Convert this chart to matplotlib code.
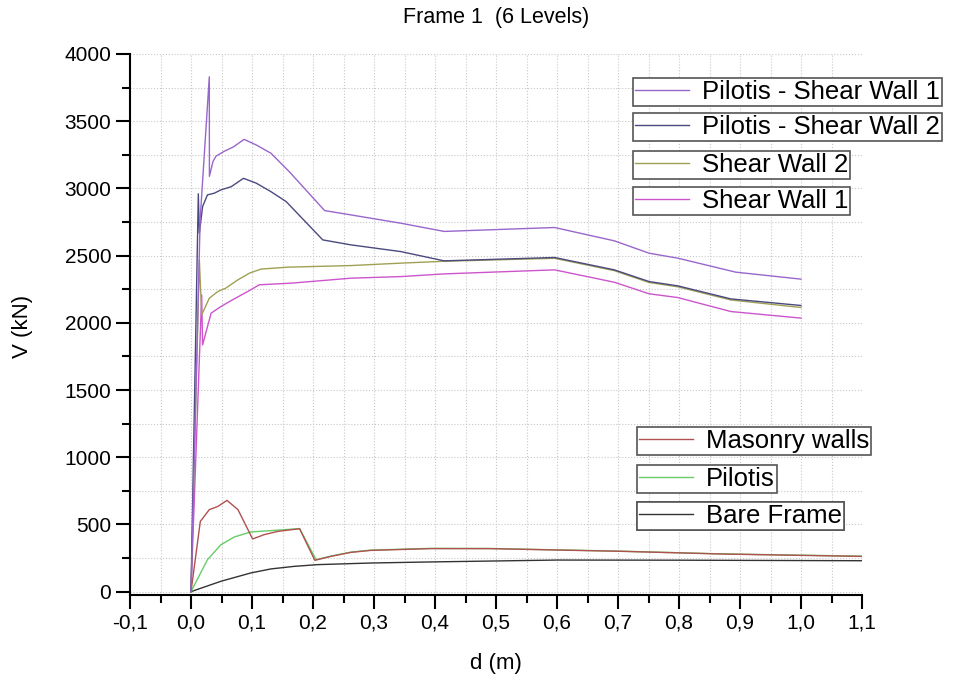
import matplotlib
matplotlib.use('Agg')
import matplotlib.pyplot as plt
from matplotlib.ticker import MultipleLocator, FuncFormatter

plt.rcParams['font.family'] = ['Liberation Sans', 'DejaVu Sans']

# Pilotis - Shear Wall 1
d_psw1 = [0, 0.015, 0.030, 0.0302, 0.036, 0.041, 0.054, 0.070, 0.087, 0.107, 0.131,
          0.161, 0.219, 0.262, 0.344, 0.415, 0.596, 0.694, 0.751, 0.798, 0.893, 1.0]
v_psw1 = [0, 2770, 3830, 3090, 3200, 3240, 3275, 3310, 3365, 3323, 3262,
          3125, 2835, 2803, 2741, 2680, 2709, 2610, 2518, 2481, 2377, 2325]

# Pilotis - Shear Wall 2
d_psw2 = [0, 0.012, 0.0137, 0.019, 0.027, 0.038, 0.049, 0.066, 0.086, 0.107, 0.131,
          0.156, 0.216, 0.262, 0.344, 0.415, 0.596, 0.694, 0.751, 0.798, 0.885, 1.0]
v_psw2 = [0, 2960, 2667, 2865, 2952, 2964, 2989, 3013, 3075, 3039, 2976,
          2902, 2617, 2580, 2530, 2461, 2486, 2394, 2307, 2275, 2178, 2129]

# Shear Wall 2
d_sw2 = [0, 0.0137, 0.0175, 0.030, 0.044, 0.057, 0.077, 0.096, 0.115, 0.158, 0.262,
         0.344, 0.415, 0.596, 0.694, 0.751, 0.798, 0.885, 1.0]
v_sw2 = [0, 2468, 2059, 2183, 2233, 2258, 2320, 2370, 2400, 2414, 2426,
         2444, 2458, 2480, 2388, 2300, 2268, 2170, 2114]

# Shear Wall 1
d_sw1 = [0, 0.0175, 0.019, 0.033, 0.049, 0.068, 0.093, 0.112, 0.164, 0.262,
         0.344, 0.415, 0.596, 0.694, 0.751, 0.798, 0.885, 1.0]
v_sw1 = [0, 2208, 1836, 2072, 2121, 2171, 2233, 2283, 2295, 2332,
         2344, 2364, 2394, 2302, 2216, 2188, 2084, 2035]

# Masonry walls
d_mas = [0, 0.0153, 0.030, 0.044, 0.059, 0.077, 0.101, 0.120, 0.142, 0.178, 0.203,
         0.230, 0.262, 0.295, 0.393, 0.49, 0.705, 0.869, 1.1]
v_mas = [0, 523, 610, 634, 679, 610, 392, 424, 448, 468, 233,
         263, 292, 307, 320, 320, 300, 280, 262]

# Pilotis
d_pil = [0, 0.027, 0.049, 0.071, 0.098, 0.131, 0.175, 0.178, 0.205, 0.230, 0.262,
         0.295, 0.393, 0.49, 0.705, 0.869, 1.1]
v_pil = [0, 238, 349, 407, 444, 454, 468, 470, 238, 265, 294,
         309, 322, 321, 301, 281, 264]

# Bare Frame
d_bare = [0, 0.049, 0.098, 0.131, 0.169, 0.208, 0.295, 0.393, 0.6, 0.8, 1.1]
v_bare = [0, 77, 139, 169, 188, 201, 213, 221, 235, 234, 230]

upper_labels = ['Pilotis - Shear Wall 1', 'Pilotis - Shear Wall 2', 'Shear Wall 2', 'Shear Wall 1']
lower_labels = ['Masonry walls', 'Pilotis', 'Bare Frame']

fig = plt.figure(figsize=(9.58, 6.81), dpi=100)
ax = fig.add_axes([130 / 958, 1 - 595 / 681, 732 / 958, 541 / 681])

lw = 1.0
l_bare, = ax.plot(d_bare, v_bare, color='#333333', lw=lw)
l_pil, = ax.plot(d_pil, v_pil, color='#66cc66', lw=lw)
l_mas, = ax.plot(d_mas, v_mas, color='#b05050', lw=lw)
l_sw1, = ax.plot(d_sw1, v_sw1, color='#cc55cc', lw=lw)
l_sw2, = ax.plot(d_sw2, v_sw2, color='#a0a055', lw=lw)
l_psw2, = ax.plot(d_psw2, v_psw2, color='#4a4a80', lw=lw)
l_psw1, = ax.plot(d_psw1, v_psw1, color='#9966cc', lw=lw)

ax.set_xlim(-0.1, 1.1)
ax.set_ylim(-25, 4000)
ax.xaxis.set_major_locator(MultipleLocator(0.1))
ax.xaxis.set_minor_locator(MultipleLocator(0.05))
ax.yaxis.set_major_locator(MultipleLocator(500))
ax.yaxis.set_minor_locator(MultipleLocator(250))
ax.xaxis.set_major_formatter(FuncFormatter(lambda v, p: f'{v:.1f}'.replace('.', ',').replace('-0,0', '0,0')))

ax.grid(which='both', color='#c8c8c8', linestyle=':', linewidth=0.8)
ax.set_axisbelow(True)
for s in ['top', 'right']:
    ax.spines[s].set_visible(False)
for s in ['left', 'bottom']:
    ax.spines[s].set_linewidth(1.5)
ax.tick_params(which='major', direction='out', length=10, width=1.5, labelsize=15)
ax.tick_params(which='minor', direction='out', length=6, width=1.5)

fig.text(0.518, 0.975, 'Frame 1  (6 Levels)', ha='center', va='center', fontsize=15.5)
fig.text(0.518, 0.025, 'd (m)', ha='center', va='center', fontsize=16)
fig.text(0.024, 0.52, 'V (kN)', ha='center', va='center', rotation=90, fontsize=16)

# one framed legend per series, stacked like the original
def box(line, label, x, y):
    leg = ax.legend([line], [label], loc='upper left', bbox_to_anchor=(x / 958, 1 - y / 681),
                    bbox_transform=fig.transFigure, fancybox=False, framealpha=1,
                    edgecolor='#555555', fontsize=18.5, borderpad=0.08, borderaxespad=0,
                    handlelength=2.1, handletextpad=0.5)
    leg.get_frame().set_linewidth(1.2)
    ax.add_artist(leg)

for line, label, y in zip([l_psw1, l_psw2, l_sw2, l_sw1], upper_labels, [78, 113, 151, 187]):
    box(line, label, 633, y)
for line, label, y in zip([l_mas, l_pil, l_bare], lower_labels, [427, 465, 502]):
    box(line, label, 637, y)

fig.savefig('out.png', dpi=100)
